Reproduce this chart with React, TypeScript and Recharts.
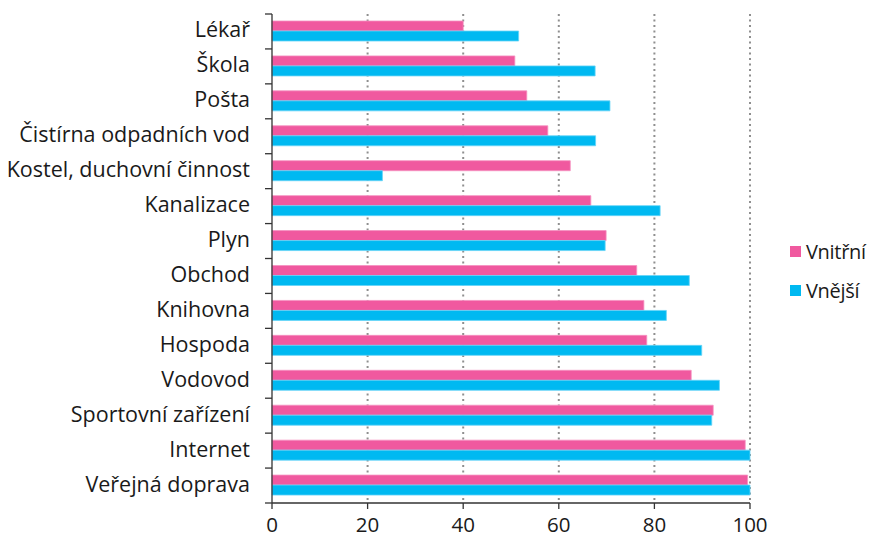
import React from "react"
import { BarChart, Bar, XAxis, YAxis, CartesianGrid } from "recharts"

const categories = [
  "Lékař",
  "Škola",
  "Pošta",
  "Čistírna odpadních vod",
  "Kostel, duchovní činnost",
  "Kanalizace",
  "Plyn",
  "Obchod",
  "Knihovna",
  "Hospoda",
  "Vodovod",
  "Sportovní zařízení",
  "Internet",
  "Veřejná doprava",
]

const vnitrni = [40, 50.8, 53.3, 57.7, 62.4, 66.7, 69.9, 76.3, 77.8, 78.4, 87.7, 92.3, 99, 99.5]
const vnejsi = [51.6, 67.6, 70.7, 67.7, 23.1, 81.2, 69.7, 87.3, 82.5, 89.9, 93.6, 92, 100, 100]

const xTicks = [0, 20, 40, 60, 80, 100]

const series = [
  { key: "vnitrni", name: "Vnitřní", color: "#f0599f", edge: "#f590c0" },
  { key: "vnejsi", name: "Vnější", color: "#00b9f1", edge: "#66d4f7" },
]

const data = categories.map((name, i) => ({
  name,
  vnitrni: vnitrni[i],
  vnejsi: vnejsi[i],
}))

const W = 868
const H = 531
const M = { top: 6, right: 126, left: 0, bottom: 0 }
const AXIS_W = 264
const X_AXIS_H = 36
const band = (H - M.top - M.bottom - X_AXIS_H) / categories.length
const FONT = "'Open Sans', sans-serif"
const AXIS_COLOR = "#333"
const LABEL_SIZE = 21.5

const YTick = (props: any) => {
  const { x, y, payload, index } = props
  return (
    <g>
      <text
        x={x - 22}
        y={y}
        dy="0.28em"
        textAnchor="end"
        fontSize={LABEL_SIZE}
        fontFamily={FONT}
        fill="#1a1a1a"
      >
        {payload.value}
      </text>
      <line x1={x - 7} x2={x} y1={y - band / 2} y2={y - band / 2} stroke={AXIS_COLOR} strokeWidth={1.3} />
      {index === categories.length - 1 && (
        <line x1={x - 7} x2={x} y1={y + band / 2} y2={y + band / 2} stroke={AXIS_COLOR} strokeWidth={1.3} />
      )}
    </g>
  )
}

export default function App() {
  return (
    <div style={{ position: "relative", width: W, height: H }}>
      <BarChart
        width={W}
        height={H}
        data={data}
        layout="vertical"
        margin={M}
        barSize={10}
        barGap={0}
      >
        <CartesianGrid
          horizontal={false}
          stroke="#8f8f8f"
          strokeWidth={2}
          strokeDasharray="2 3.5"
          verticalValues={[20, 40, 60, 80, 100]}
        />
        <XAxis
          type="number"
          domain={[0, 100]}
          ticks={xTicks}
          height={X_AXIS_H}
          tickSize={6}
          tickMargin={8}
          stroke={AXIS_COLOR}
          strokeWidth={1.3}
          tick={{ fontSize: 20.5, fontFamily: FONT, fill: "#1a1a1a" }}
        />
        <YAxis
          type="category"
          dataKey="name"
          width={AXIS_W}
          tickSize={0}
          tickMargin={0}
          interval={0}
          stroke={AXIS_COLOR}
          strokeWidth={1.3}
          tick={<YTick />}
        />
        {series.map((s) => (
          <Bar
            key={s.key}
            dataKey={s.key}
            name={s.name}
            fill={s.color}
            stroke={s.edge}
            strokeWidth={0.8}
            isAnimationActive={false}
          />
        ))}
      </BarChart>
      <div
        style={{
          position: "absolute",
          left: 782,
          top: 224,
          fontFamily: FONT,
          fontSize: 20,
          letterSpacing: -0.3,
          color: "#1a1a1a",
          whiteSpace: "nowrap",
        }}
      >
        {series.map((s) => (
          <div key={s.key} style={{ display: "flex", alignItems: "center", height: 39 }}>
            <span style={{ width: 11, height: 11, background: s.color, marginRight: 5, display: "inline-block", flexShrink: 0 }} />
            <span>{s.name}</span>
          </div>
        ))}
      </div>
    </div>
  )
}
